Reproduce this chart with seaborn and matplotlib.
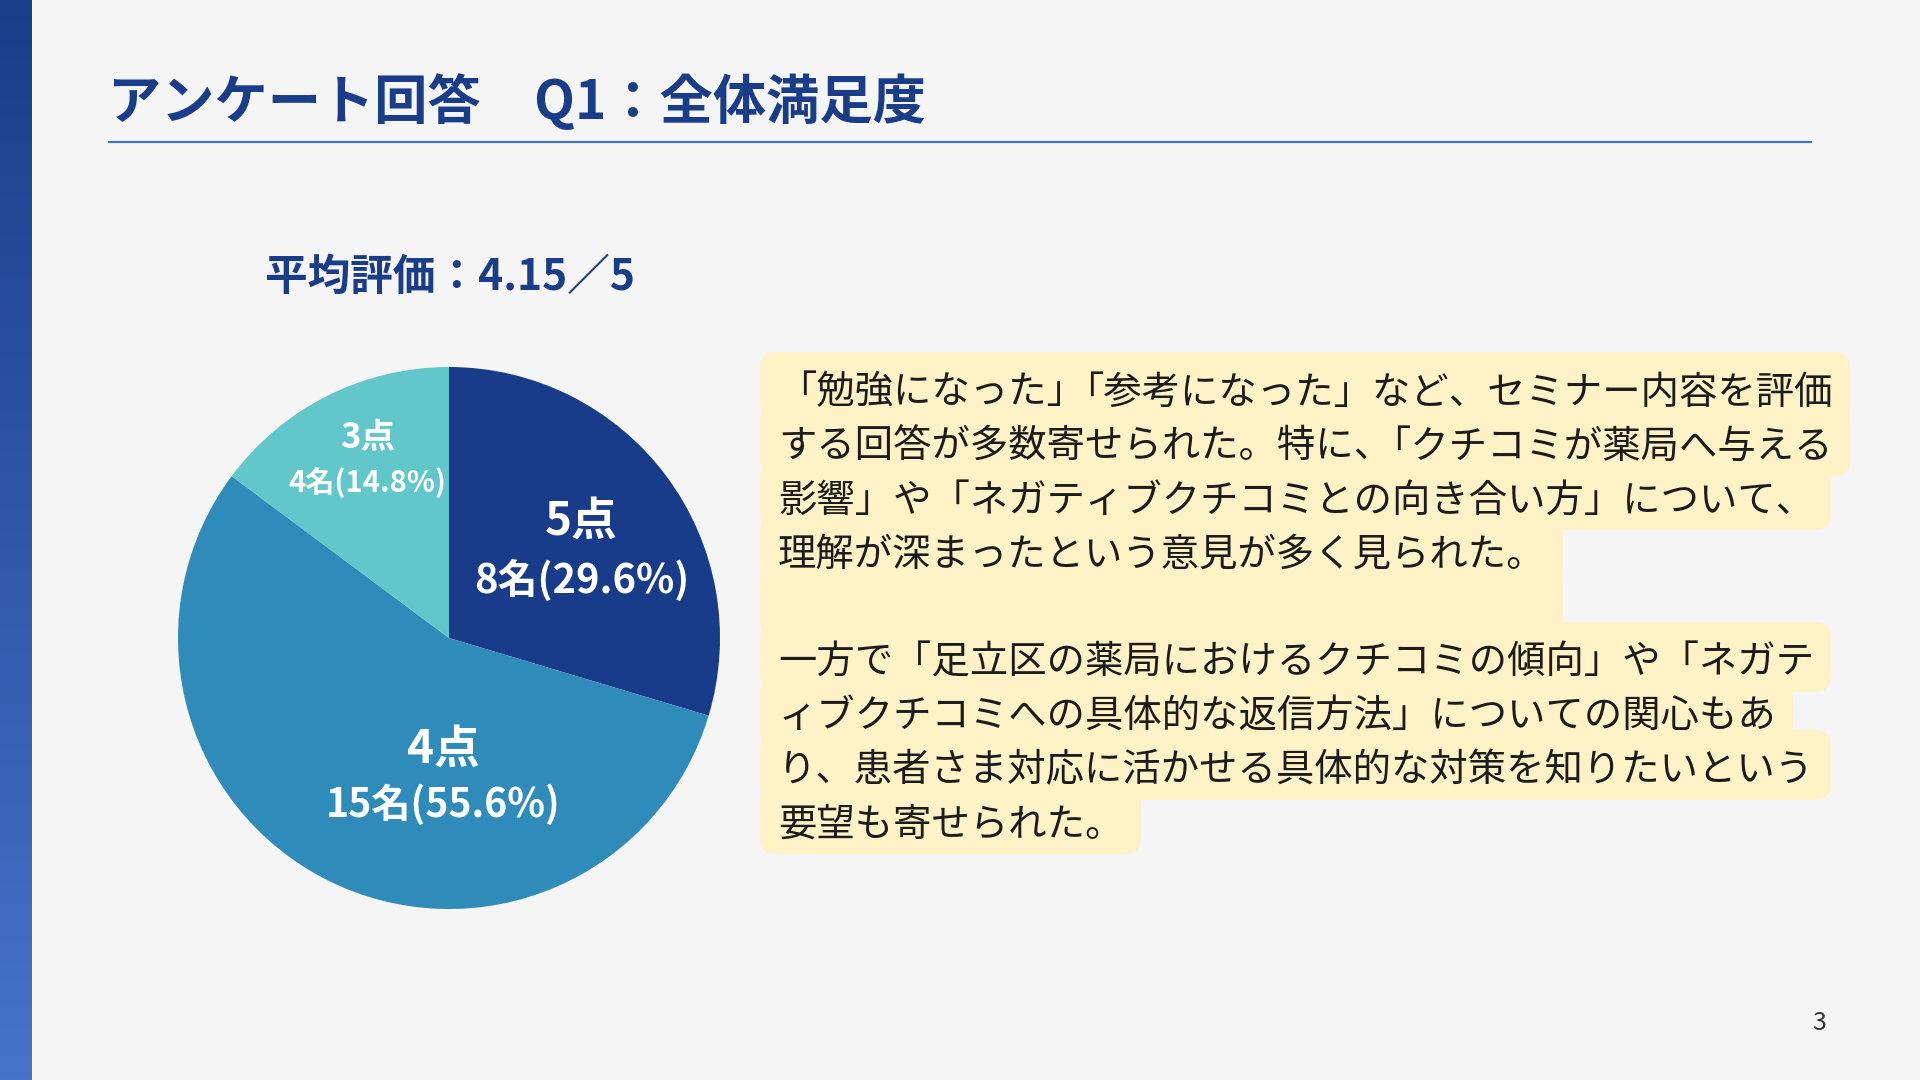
import numpy as np
import matplotlib
matplotlib.use("Agg")
import matplotlib.pyplot as plt
import seaborn as sns
from matplotlib.patches import FancyBboxPatch
from matplotlib.colors import LinearSegmentedColormap

# ---------------- data ----------------
ratings = ["5点", "4点", "3点"]
scores = [5, 4, 3]
counts = [8, 15, 4]
slice_colors = ["#183c89", "#2e8bba", "#62c7cb"]

title_text = "アンケート回答　Q1：全体満足度"
page_number = "3"
comment_lines = [
    "「勉強になった」「参考になった」など、セミナー内容を評価",
    "する回答が多数寄せられた。特に、「クチコミが薬局へ与える",
    "影響」や「ネガティブクチコミとの向き合い方」について、",
    "理解が深まったという意見が多く見られた。",
    "",
    "一方で「足立区の薬局におけるクチコミの傾向」や「ネガテ",
    "ィブクチコミへの具体的な返信方法」についての関心もあ",
    "り、患者さま対応に活かせる具体的な対策を知りたいという",
    "要望も寄せられた。",
]

# ---------------- style ----------------
sns.set_theme(style="white")
plt.rcParams["font.family"] = ["Noto Sans CJK JP", "DejaVu Sans"]

NAVY = "#1a3d8a"
BG = "#f5f5f5"
W, H = 1920, 1080
DPI = 100

fig = plt.figure(figsize=(W / DPI, H / DPI), dpi=DPI, facecolor=BG)

# overlay axes in pixel coordinates (y downwards)
ov = fig.add_axes([0, 0, 1, 1])
ov.set_facecolor(BG)
ov.axis("off")

# left gradient bar
grad = np.linspace(0, 1, 256).reshape(-1, 1)
cmap_bar = LinearSegmentedColormap.from_list("bar", ["#1a3d8a", "#4574c7"])
ov.imshow(grad, cmap=cmap_bar, extent=[0, 32, H, 0], aspect="auto", zorder=1)
ov.set_xlim(0, W)
ov.set_ylim(H, 0)

# title + rule
ov.text(108, 103, title_text, fontsize=38.3, fontweight="bold", color=NAVY,
        ha="left", va="center")
ov.plot([108, 1812], [142, 142], color="#4472c4", lw=1.6, solid_capstyle="butt")

# average rating subtitle (computed from data)
total = sum(counts)
avg = sum(s * c for s, c in zip(scores, counts)) / total
ov.text(450, 277, f"平均評価：{avg:.2f}／5", fontsize=30.7, fontweight="bold",
        color=NAVY, ha="center", va="center")

# ---------------- pie ----------------
cx, cy, r = 449, 638, 271
ax = fig.add_axes([(cx - r) / W, (H - cy - r) / H, 2 * r / W, 2 * r / H])
ax.pie(counts, colors=slice_colors, startangle=90, counterclock=False,
       radius=1.0, wedgeprops=dict(linewidth=0))
ax.set_xlim(-1, 1)
ax.set_ylim(-1, 1)
ax.axis("off")

label_pos = [(0.489, 0.43, 0.21), (-0.022, -0.414, -0.615), (-0.30, 0.74, 0.575)]
big_fs = [33, 33, 25]
small_fs = [28.7, 28.2, 21]
for lab, c, (lx, ly1, ly2), bf, sf in zip(ratings, counts, label_pos, big_fs, small_fs):
    ax.text(lx, ly1, lab, fontsize=bf, fontweight="bold", color="white",
            ha="center", va="center")
    ax.text(lx, ly2, f"{c}名({c / total * 100:.1f}%)", fontsize=sf,
            fontweight="bold", color="white", ha="center", va="center")

# ---------------- highlighted comment block ----------------
body_fs = 27.6
em = body_fs * DPI / 72.0
x_box = 760
x_text = 778
pad_x = 18
row_top0 = 360
row_h = 54
pad_y = 8
OPEN = "「"
CLOSE = "」、。"


def split_with_trim(line):
    """Split a line where adjacent punctuation is compressed by half an em."""
    segs, start, comp = [], 0, 0
    for k in range(len(line) - 1):
        if line[k] in CLOSE and line[k + 1] in OPEN:
            segs.append((line[start:k + 1], start - 0.5 * comp))
            comp += 1
            start = k + 1
    segs.append((line[start:], start - 0.5 * comp))
    return segs, len(line) - 0.5 * comp


prev_w = 0
for i, line in enumerate(comment_lines):
    if line:
        segs, w_em = split_with_trim(line)
    else:
        segs, w_em = [], prev_w
    prev_w = w_em
    top = row_top0 + row_h * i - pad_y
    right = x_text + w_em * em + pad_x
    box = FancyBboxPatch((x_box, top), right - x_box, row_h + 2 * pad_y,
                         boxstyle="round,pad=0,rounding_size=16",
                         facecolor="#fff2c6", edgecolor="none", zorder=2)
    ov.add_patch(box)
    yc = row_top0 + row_h * i + row_h / 2 + 6
    for seg, pos in segs:
        ov.text(x_text + pos * em, yc, seg, fontsize=body_fs,
                color="#1c1c1c", ha="left", va="center", zorder=3)

# page number
ov.text(1819, 1023, page_number, fontsize=18, color="#333333",
        ha="center", va="center")

fig.savefig("out.png", dpi=DPI, facecolor=BG)
